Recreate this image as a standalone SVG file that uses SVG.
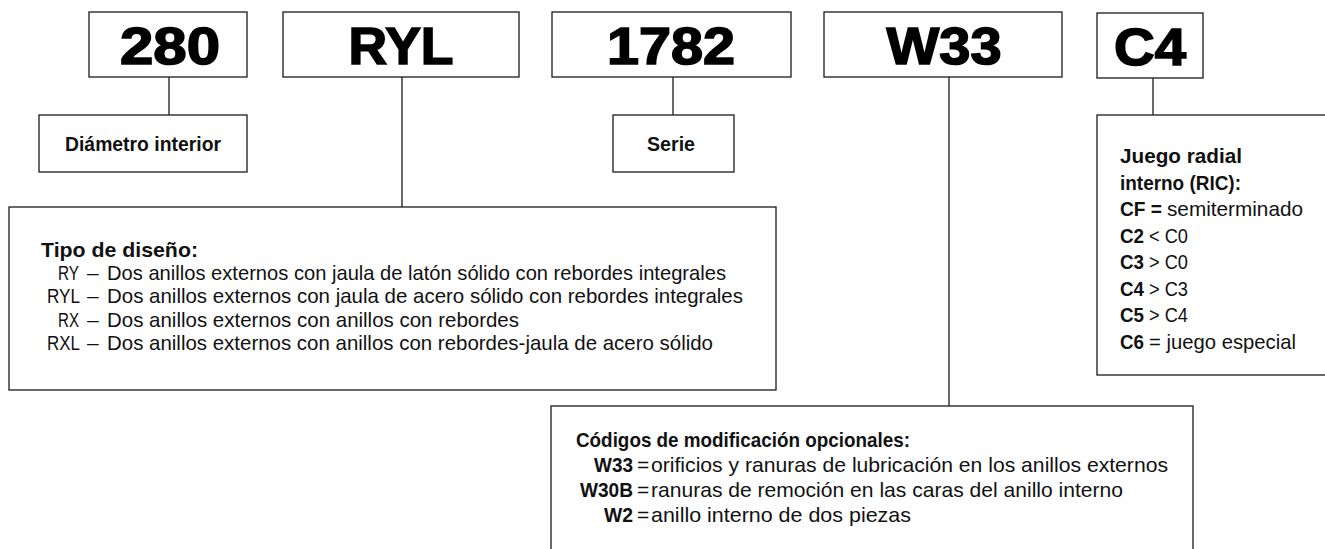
<svg xmlns="http://www.w3.org/2000/svg" width="1325" height="549" viewBox="0 0 1325 549">
<style>
.box{fill:#fff;stroke:#1a1a1a;stroke-width:1.3}
.code{font-family:"Liberation Sans",Arial,sans-serif;font-weight:bold;font-size:52px;fill:#000;stroke:#000;stroke-width:1.6;text-anchor:middle}
.lbl{font-family:"Liberation Sans",Arial,sans-serif;font-weight:bold;font-size:20px;fill:#111}
.t{font-family:"Liberation Sans",Arial,sans-serif;font-size:21px;fill:#111}
.h{font-family:"Liberation Sans",Arial,sans-serif;font-weight:bold;font-size:21px;fill:#111}
.b{font-weight:bold}
.e{text-anchor:end}
.m{text-anchor:middle}
#connectors line{stroke:#1a1a1a;stroke-width:1.3}
</style>
<rect width="1325" height="549" fill="#fff"/>
<g id="connectors">
<line x1="169" y1="77" x2="169" y2="115"/>
<line x1="402" y1="77" x2="402" y2="207"/>
<line x1="673" y1="77" x2="673" y2="115"/>
<line x1="949" y1="77" x2="949" y2="406"/>
<line x1="1153" y1="78" x2="1153" y2="115"/>
</g>
<g id="n280">
<rect class="box" x="89" y="12" width="158" height="65"/>
<text class="code" x="170" y="64" textLength="100" lengthAdjust="spacingAndGlyphs">280</text>
</g>
<g id="nRYL">
<rect class="box" x="283" y="12" width="236" height="65"/>
<text class="code" x="401" y="64" textLength="105" lengthAdjust="spacingAndGlyphs">RYL</text>
</g>
<g id="n1782">
<rect class="box" x="552" y="12" width="239" height="65"/>
<text class="code" x="671" y="64" textLength="128" lengthAdjust="spacingAndGlyphs">1782</text>
</g>
<g id="nW33">
<rect class="box" x="824" y="12" width="238" height="65"/>
<text class="code" x="944" y="64" textLength="115" lengthAdjust="spacingAndGlyphs">W33</text>
</g>
<g id="nC4">
<rect class="box" x="1097" y="13" width="106" height="65"/>
<text class="code" x="1150" y="65" textLength="72" lengthAdjust="spacingAndGlyphs">C4</text>
</g>
<g id="nDiam">
<rect class="box" x="39" y="115" width="208" height="57"/>
<text class="lbl m" x="143" y="151" textLength="156" lengthAdjust="spacingAndGlyphs">Diámetro interior</text>
</g>
<g id="nSerie">
<rect class="box" x="613" y="115" width="121" height="57"/>
<text class="lbl m" x="671" y="151" textLength="48" lengthAdjust="spacingAndGlyphs">Serie</text>
</g>
<g id="nTipo">
<rect class="box" x="9" y="207" width="767" height="183"/>
<text class="h" x="41" y="257" textLength="157" lengthAdjust="spacingAndGlyphs">Tipo de diseño:</text>
<text class="t e" x="79" y="280" textLength="21" lengthAdjust="spacingAndGlyphs">RY</text>
<text class="t" x="87" y="280">–</text>
<text class="t" x="107" y="280" textLength="619" lengthAdjust="spacingAndGlyphs">Dos anillos externos con jaula de latón sólido con rebordes integrales</text>
<text class="t e" x="80" y="303" textLength="33" lengthAdjust="spacingAndGlyphs">RYL</text>
<text class="t" x="87" y="303">–</text>
<text class="t" x="107" y="303" textLength="636" lengthAdjust="spacingAndGlyphs">Dos anillos externos con jaula de acero sólido con rebordes integrales</text>
<text class="t e" x="79" y="327" textLength="21" lengthAdjust="spacingAndGlyphs">RX</text>
<text class="t" x="87" y="327">–</text>
<text class="t" x="107" y="327" textLength="412" lengthAdjust="spacingAndGlyphs">Dos anillos externos con anillos con rebordes</text>
<text class="t e" x="80" y="350" textLength="33" lengthAdjust="spacingAndGlyphs">RXL</text>
<text class="t" x="87" y="350">–</text>
<text class="t" x="107" y="350" textLength="606" lengthAdjust="spacingAndGlyphs">Dos anillos externos con anillos con rebordes-jaula de acero sólido</text>
</g>
<g id="nCodigos">
<rect class="box" x="551" y="406" width="642" height="160"/>
<text class="h" x="576" y="447" textLength="334" lengthAdjust="spacingAndGlyphs">Códigos de modificación opcionales:</text>
<text class="t b e" x="633" y="472" textLength="39" lengthAdjust="spacingAndGlyphs">W33</text>
<text class="t" x="637" y="472">=</text>
<text class="t" x="651" y="472" textLength="517" lengthAdjust="spacingAndGlyphs">orificios y ranuras de lubricación en los anillos externos</text>
<text class="t b e" x="633" y="497" textLength="53" lengthAdjust="spacingAndGlyphs">W30B</text>
<text class="t" x="637" y="497">=</text>
<text class="t" x="651" y="497" textLength="472" lengthAdjust="spacingAndGlyphs">ranuras de remoción en las caras del anillo interno</text>
<text class="t b e" x="633" y="522" textLength="29" lengthAdjust="spacingAndGlyphs">W2</text>
<text class="t" x="637" y="522">=</text>
<text class="t" x="651" y="522" textLength="260" lengthAdjust="spacingAndGlyphs">anillo interno de dos piezas</text>
</g>
<g id="nJuego">
<rect class="box" x="1097" y="115" width="240" height="260"/>
<text class="h" x="1120" y="163" textLength="122" lengthAdjust="spacingAndGlyphs">Juego radial</text>
<text class="h" x="1120" y="189.5" textLength="121" lengthAdjust="spacingAndGlyphs">interno (RIC):</text>
<text class="t b" x="1120" y="216" textLength="42" lengthAdjust="spacingAndGlyphs">CF =</text>
<text class="t" x="1167" y="216" textLength="136" lengthAdjust="spacingAndGlyphs">semiterminado</text>
<text class="t b" x="1120" y="242.5" textLength="24" lengthAdjust="spacingAndGlyphs">C2</text>
<text class="t" x="1149" y="242.5" textLength="39" lengthAdjust="spacingAndGlyphs">&lt; C0</text>
<text class="t b" x="1120" y="269" textLength="24" lengthAdjust="spacingAndGlyphs">C3</text>
<text class="t" x="1149" y="269" textLength="39" lengthAdjust="spacingAndGlyphs">&gt; C0</text>
<text class="t b" x="1120" y="295.5" textLength="24" lengthAdjust="spacingAndGlyphs">C4</text>
<text class="t" x="1149" y="295.5" textLength="39" lengthAdjust="spacingAndGlyphs">&gt; C3</text>
<text class="t b" x="1120" y="322" textLength="24" lengthAdjust="spacingAndGlyphs">C5</text>
<text class="t" x="1149" y="322" textLength="39" lengthAdjust="spacingAndGlyphs">&gt; C4</text>
<text class="t b" x="1120" y="348.5" textLength="24" lengthAdjust="spacingAndGlyphs">C6</text>
<text class="t" x="1149" y="348.5" textLength="147" lengthAdjust="spacingAndGlyphs">= juego especial</text>
</g>
</svg>
